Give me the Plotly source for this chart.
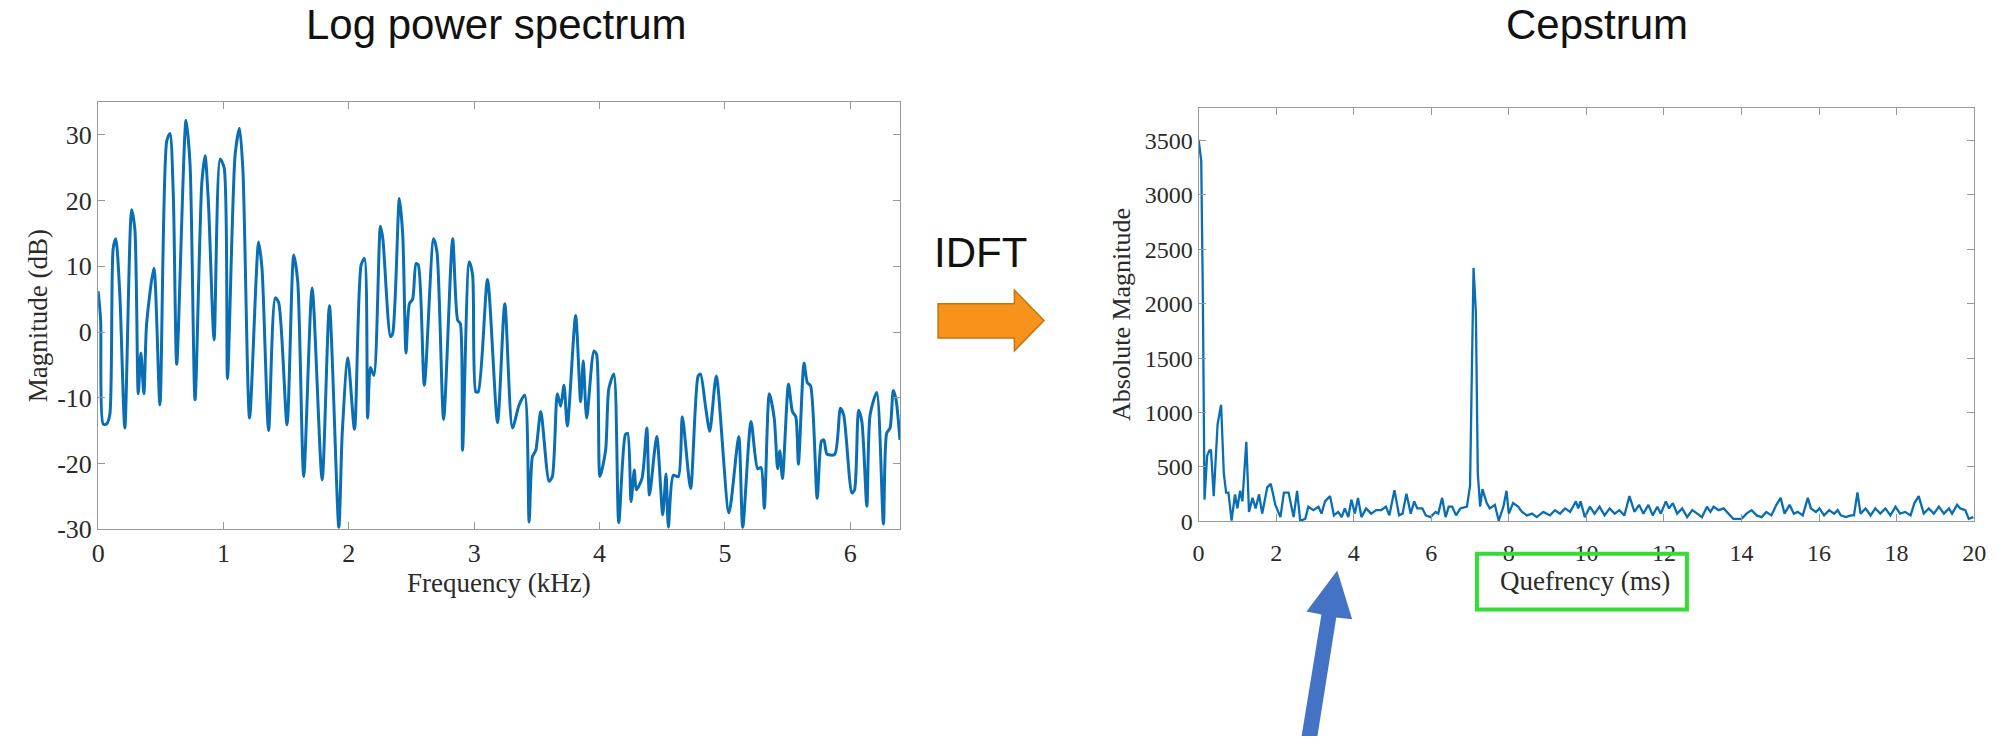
import plotly.graph_objects as go

# ---------------- data ----------------
freq_khz = [0.0, 0.02, 0.04, 0.067, 0.093, 0.12, 0.141, 0.173, 0.213, 0.267, 0.293, 0.32, 0.341, 0.365,
            0.387, 0.445, 0.493, 0.547, 0.573, 0.6, 0.627, 0.701, 0.733, 0.773, 0.827, 0.853, 0.88, 0.925,
            0.973, 1.005, 1.032, 1.093, 1.128, 1.155, 1.208, 1.28, 1.307, 1.36, 1.413, 1.44, 1.507, 1.56,
            1.592, 1.64, 1.707, 1.787, 1.845, 1.92, 1.947, 1.992, 2.045, 2.098, 2.125, 2.15, 2.172, 2.2,
            2.252, 2.271, 2.332, 2.35, 2.403, 2.43, 2.456, 2.483, 2.509, 2.536, 2.554, 2.602, 2.676, 2.703,
            2.756, 2.828, 2.868, 2.889, 2.907, 2.96, 2.987, 3.013, 3.032, 3.106, 3.186, 3.244, 3.305, 3.358,
            3.403, 3.438, 3.464, 3.491, 3.531, 3.597, 3.623, 3.663, 3.69, 3.716, 3.743, 3.809, 3.849, 3.87,
            3.897, 3.955, 3.976, 4.003, 4.048, 4.074, 4.114, 4.153, 4.206, 4.224, 4.251, 4.277, 4.293, 4.338,
            4.377, 4.398, 4.456, 4.504, 4.53, 4.549, 4.588, 4.628, 4.66, 4.726, 4.786, 4.805, 4.847, 4.879,
            4.931, 5.032, 5.11, 5.142, 5.208, 5.261, 5.288, 5.314, 5.354, 5.393, 5.42, 5.438, 5.459, 5.507,
            5.538, 5.565, 5.586, 5.631, 5.657, 5.683, 5.736, 5.77, 5.789, 5.815, 5.876, 5.921, 5.947, 6.013,
            6.034, 6.066, 6.092, 6.132, 6.158, 6.211, 6.264, 6.29, 6.317, 6.343, 6.364, 6.396]
mag_db = [6.2, 1.8, -14.0, -14.0, -12.6, 12.7, 14.2, 5.7, -14.6, 18.6, 15.6, -9.4, -3.2, -9.4,
          1.3, 9.7, -11.1, 29.0, 30.2, 20.6, -4.9, 32.2, 25.6, -10.3, 22.6, 26.8, 19.6, -1.2,
          26.3, 25.0, -7.1, 27.0, 31.0, 24.6, -13.1, 13.7, 9.7, -15.0, 5.2, 4.5, -14.1, 11.7,
          7.7, -22.0, 6.7, -22.5, 4.0, -29.7, -15.5, -3.9, -14.8, 10.2, 11.2, -13.1, -5.4, -6.6,
          16.1, 14.2, -0.7, -0.2, 20.3, 14.7, -3.2, 4.3, 5.0, 10.4, 10.2, -8.1, 14.2, 12.2,
          -13.3, 14.2, 1.8, 1.3, -18.0, 10.7, 8.7, -9.1, -9.1, 8.0, -13.8, 4.3, -14.6, -11.1,
          -9.6, -28.9, -19.0, -18.0, -12.1, -22.7, -22.0, -9.4, -11.3, -8.1, -14.3, 2.5, -10.6, -4.4,
          -13.1, -2.9, -3.4, -22.0, -18.0, -8.6, -6.4, -29.0, -15.6, -15.4, -25.8, -21.0, -24.0, -22.3,
          -14.6, -24.8, -15.9, -27.8, -21.6, -29.7, -21.8, -22.0, -12.9, -23.8, -6.7, -6.4, -11.6, -15.1,
          -6.7, -27.5, -15.9, -29.7, -13.6, -20.8, -20.6, -26.8, -9.4, -13.1, -20.8, -18.1, -22.3, -7.9,
          -12.1, -12.9, -20.1, -4.7, -7.7, -8.2, -25.3, -16.6, -16.4, -18.6, -18.6, -11.6, -12.6, -24.5,
          -24.0, -11.9, -13.6, -26.5, -12.6, -9.2, -29.2, -15.4, -14.6, -8.9, -10.2, -16.4]

quef_ms = [0.0, 0.068, 0.11, 0.153, 0.22, 0.28, 0.32, 0.39, 0.49, 0.58, 0.65, 0.71, 0.77, 0.85, 0.94,
           1.0, 1.07, 1.13, 1.23, 1.3, 1.39, 1.47, 1.56, 1.64, 1.77, 1.86, 1.98, 2.11, 2.2, 2.32, 2.45,
           2.54, 2.62, 2.75, 2.83, 2.96, 3.09, 3.17, 3.26, 3.39, 3.49, 3.6, 3.69, 3.77, 3.86, 3.94, 4.03,
           4.11, 4.2, 4.32, 4.45, 4.58, 4.71, 4.83, 4.92, 5.05, 5.17, 5.26, 5.36, 5.47, 5.56, 5.64, 5.77,
           5.86, 5.98, 6.11, 6.18, 6.28, 6.37, 6.45, 6.54, 6.64, 6.75, 6.92, 7.0, 7.09, 7.15, 7.2, 7.26,
           7.32, 7.43, 7.51, 7.64, 7.74, 7.86, 7.94, 8.0, 8.11, 8.24, 8.34, 8.47, 8.6, 8.72, 8.89, 9.06,
           9.19, 9.32, 9.45, 9.58, 9.73, 9.79, 9.85, 9.96, 10.09, 10.21, 10.34, 10.47, 10.6, 10.73, 10.85,
           10.98, 11.11, 11.24, 11.36, 11.47, 11.6, 11.71, 11.83, 11.92, 12.05, 12.13, 12.23, 12.34, 12.47,
           12.6, 12.73, 12.86, 12.98, 13.11, 13.2, 13.28, 13.41, 13.54, 13.66, 13.79, 14.0, 14.13, 14.26,
           14.39, 14.52, 14.64, 14.77, 14.9, 15.01, 15.11, 15.24, 15.35, 15.45, 15.58, 15.71, 15.79, 15.92,
           16.01, 16.13, 16.26, 16.39, 16.48, 16.56, 16.69, 16.82, 16.9, 16.99, 17.07, 17.2, 17.33, 17.45,
           17.58, 17.71, 17.84, 17.97, 18.09, 18.22, 18.36, 18.46, 18.57, 18.7, 18.83, 18.96, 19.09, 19.22,
           19.35, 19.43, 19.56, 19.64, 19.77, 19.86, 19.98]
cep_abs = [3507, 3313, 2055, 200, 603, 652, 652, 232, 894, 1071, 442, 265, 265, 6, 248,
           119, 281, 184, 732, 87, 216, 119, 248, 71, 313, 345, 152, 39, 265, 265, 39,
           281, 6, 23, 135, 103, 135, 71, 184, 232, 55, 87, 39, 119, 39, 200, 71,
           216, 39, 119, 71, 103, 103, 135, 55, 287, 55, 71, 255, 71, 184, 119, 119,
           55, 39, 87, 71, 216, 39, 135, 135, 55, 119, 135, 329, 2329, 1926, 442, 135,
           297, 168, 119, 152, 6, 135, 281, 71, 168, 135, 87, 55, 71, 39, 87, 55,
           103, 71, 119, 87, 184, 119, 184, 39, 135, 71, 135, 55, 119, 71, 103,
           55, 232, 87, 152, 71, 152, 55, 135, 71, 184, 119, 168, 71, 119,
           39, 103, 71, 39, 135, 87, 135, 103, 119, 71, 23, 23, 71, 103,
           55, 39, 87, 55, 152, 216, 71, 152, 71, 87, 55, 216, 119, 87,
           119, 55, 103, 71, 103, 55, 39, 55, 55, 265, 71, 119, 55, 119,
           71, 119, 55, 135, 71, 87, 55, 168, 232, 71, 119, 71, 135, 71,
           119, 71, 152, 119, 103, 23, 39]

left_yticks = [-30, -20, -10, 0, 10, 20, 30]
left_yticklabels = ["-30", "-20", "-10", "0", "10", "20", "30"]
left_xticks = [0, 1, 2, 3, 4, 5, 6]
right_yticks = [0, 500, 1000, 1500, 2000, 2500, 3000, 3500]
right_xticks = [0, 2, 4, 6, 8, 10, 12, 14, 16, 18, 20]

# ---------------- layout helpers ----------------
W, H = 2004, 751


def px(x):
    return x / W


def py(y):
    return 1 - y / H


LINE = "#0A6EB4"
AX = "#999999"
TXT = "#2a2a2a"
SERIF = "Liberation Serif, Times New Roman, serif"
SANS = "Liberation Sans, Arial, sans-serif"

fig = go.Figure()
fig.add_trace(go.Scatter(x=freq_khz, y=mag_db, mode="lines",
                         line=dict(color=LINE, width=3, shape="spline", smoothing=0.7),
                         xaxis="x", yaxis="y", showlegend=False))
fig.add_trace(go.Scatter(x=quef_ms, y=cep_abs, mode="lines",
                         line=dict(color=LINE, width=2.3), xaxis="x2", yaxis="y2", showlegend=False))

axis_common = dict(showline=True, linecolor=AX, linewidth=1.2, mirror="allticks", ticks="inside",
                   tickcolor=AX, ticklen=7, showgrid=False, zeroline=False)

fig.update_layout(
    width=W, height=H, margin=dict(l=0, r=0, t=0, b=0),
    paper_bgcolor="white", plot_bgcolor="white",
    xaxis=dict(domain=[px(92), px(902)], range=[0, 6.4], tickvals=left_xticks, anchor="y",
               tickfont=dict(family=SERIF, size=26, color=TXT), **axis_common),
    yaxis=dict(domain=[py(540), py(104)], range=[-30, 35], tickvals=left_yticks,
               ticktext=left_yticklabels, anchor="x",
               tickfont=dict(family=SERIF, size=26, color=TXT), **axis_common),
    xaxis2=dict(domain=[px(1203), px(1986)], range=[0, 20], tickvals=right_xticks, anchor="y2",
                ticklabelstandoff=10,
                tickfont=dict(family=SERIF, size=24, color=TXT), **axis_common),
    yaxis2=dict(domain=[py(532), py(110)], range=[0, 3800], tickvals=right_yticks, anchor="x2",
                tickfont=dict(family=SERIF, size=24, color=TXT), **axis_common),
)

annos = [
    dict(text="Log power spectrum", x=px(494), y=py(25), font=dict(family=SANS, size=42, color="#111")),
    dict(text="Cepstrum", x=px(1605), y=py(25), font=dict(family=SANS, size=42, color="#111")),
    dict(text="IDFT", x=px(983), y=py(258), font=dict(family=SANS, size=42, color="#111")),
    dict(text="Magnitude (dB)", x=px(31), y=py(322), textangle=-90,
         font=dict(family=SERIF, size=27, color=TXT)),
    dict(text="Frequency (kHz)", x=px(497), y=py(595), font=dict(family=SERIF, size=27, color=TXT)),
    dict(text="Absolute Magnitude", x=px(1125), y=py(321), textangle=-90,
         font=dict(family=SERIF, size=26, color=TXT)),
    dict(text="Quefrency (ms)", x=px(1593), y=py(593), font=dict(family=SERIF, size=27, color=TXT)),
]
for a in annos:
    fig.add_annotation(xref="paper", yref="paper", showarrow=False, xanchor="center", yanchor="middle", **a)


def poly(points):
    return "M " + " L ".join(f"{px(x):.5f},{py(y):.5f}" for x, y in points) + " Z"


# orange IDFT arrow
fig.add_shape(type="path", xref="paper", yref="paper",
              path=poly([(940, 310), (1017, 310), (1017, 296), (1047, 327), (1017, 358), (1017, 345), (940, 345)]),
              fillcolor="#F7931A", line=dict(color="#C0760C", width=1.5))
# blue pointer arrow
fig.add_shape(type="path", xref="paper", yref="paper",
              path=poly([(1343, 582), (1358, 632), (1342, 630), (1323, 751), (1307, 751), (1327, 627), (1312, 624)]),
              fillcolor="#4472C4", line=dict(color="#4472C4", width=0))
# green highlight box
fig.add_shape(type="rect", xref="paper", yref="paper",
              x0=px(1484), x1=px(1696), y0=py(622), y1=py(565),
              line=dict(color="#33DD33", width=4), fillcolor="rgba(0,0,0,0)")

fig.write_html("out.html")
